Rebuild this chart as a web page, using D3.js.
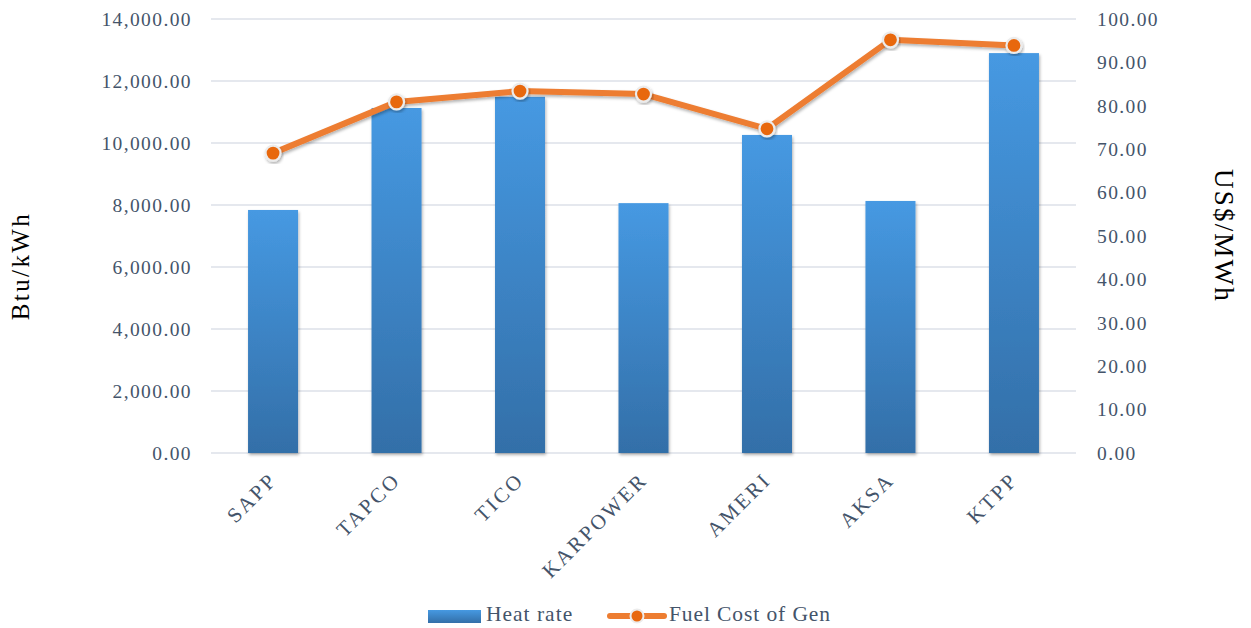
<!DOCTYPE html>
<html>
<head>
<meta charset="utf-8">
<script src="https://cdn.jsdelivr.net/npm/d3@7"></script>
<style>
  body { margin: 0; background: #fff; }
  text { font-family: "Liberation Serif", "DejaVu Serif", serif; }
</style>
</head>
<body>
<svg id="chart"></svg>
<script>
// chart data
const plants = ["SAPP", "TAPCO", "TICO", "KARPOWER", "AMERI", "AKSA", "KTPP"];
const heatRate = [7840, 11130, 11490, 8060, 10260, 8130, 12900];
const fuelCost = [69.1, 80.9, 83.4, 82.7, 74.7, 95.2, 93.9];
const leftTicks = [0, 2000, 4000, 6000, 8000, 10000, 12000, 14000];
const rightTicks = [0, 10, 20, 30, 40, 50, 60, 70, 80, 90, 100];

const width = 1251;
const height = 628;
const margin = { top: 19, right: 175, bottom: 175, left: 211 };
const textColor = "#44546a";

const svg = d3.select("#chart")
  .attr("width", width)
  .attr("height", height);

// gradient for the bars + shadow filter
const defs = svg.append("defs");
const grad = defs.append("linearGradient")
  .attr("id", "barGrad")
  .attr("x1", 0).attr("y1", 0).attr("x2", 0).attr("y2", 1);
grad.append("stop").attr("offset", "0%").attr("stop-color", "#4699e2");
grad.append("stop").attr("offset", "100%").attr("stop-color", "#336fa8");

const shadow = defs.append("filter").attr("id", "shadow")
  .attr("x", "-20%").attr("y", "-20%").attr("width", "140%").attr("height", "140%");
shadow.append("feDropShadow")
  .attr("dx", 1).attr("dy", 2).attr("stdDeviation", 1.8)
  .attr("flood-color", "#000").attr("flood-opacity", 0.3);

const x = d3.scaleBand()
  .domain(plants)
  .range([margin.left, width - margin.right])
  .paddingInner(0.595)
  .paddingOuter(0.3);

const yLeft = d3.scaleLinear()
  .domain([0, 14000])
  .range([height - margin.bottom, margin.top]);

const yRight = d3.scaleLinear()
  .domain([0, 100])
  .range([height - margin.bottom, margin.top]);

// gridlines
svg.append("g")
  .selectAll("line")
  .data(leftTicks)
  .join("line")
  .attr("x1", margin.left)
  .attr("x2", width - margin.right)
  .attr("y1", d => yLeft(d))
  .attr("y2", d => yLeft(d))
  .attr("stroke", "#dde1e8")
  .attr("stroke-width", 1.3);

// left axis
const fmt = d3.format(",.2f");
const leftAxis = svg.append("g")
  .attr("transform", `translate(${margin.left - 19},0)`)
  .call(d3.axisLeft(yLeft).tickValues(leftTicks).tickFormat(fmt).tickSize(0).tickPadding(0));
leftAxis.select(".domain").remove();
leftAxis.selectAll("text")
  .attr("fill", textColor)
  .style("font-size", "19.5px")
  .style("letter-spacing", "1.4px");

// right axis
const rightAxis = svg.append("g")
  .attr("transform", `translate(${width - margin.right + 21},0)`)
  .call(d3.axisRight(yRight).tickValues(rightTicks).tickFormat(fmt).tickSize(0).tickPadding(0));
rightAxis.select(".domain").remove();
rightAxis.selectAll("text")
  .attr("fill", textColor)
  .style("font-size", "19.5px")
  .style("letter-spacing", "1.4px");

// bars
svg.append("g")
  .selectAll("rect")
  .data(plants)
  .join("rect")
  .attr("x", d => x(d))
  .attr("y", (d, i) => yLeft(heatRate[i]))
  .attr("width", x.bandwidth())
  .attr("height", (d, i) => yLeft(0) - yLeft(heatRate[i]))
  .attr("fill", "url(#barGrad)")
  .attr("filter", "url(#shadow)");

// x labels rotated
svg.append("g")
  .selectAll("text")
  .data(plants)
  .join("text")
  .attr("transform", d => `translate(${x(d) + x.bandwidth() / 2},${height - margin.bottom + 23}) rotate(-45)`)
  .attr("text-anchor", "end")
  .attr("dy", "0.35em")
  .attr("fill", textColor)
  .style("font-size", "21px")
  .style("letter-spacing", "2.6px")
  .text(d => d);

// line series
const line = d3.line()
  .x((d, i) => x(plants[i]) + x.bandwidth() / 2)
  .y(d => yRight(d));

svg.append("path")
  .datum(fuelCost)
  .attr("d", line)
  .attr("fill", "none")
  .attr("stroke", "#ed7d31")
  .attr("stroke-width", 6)
  .attr("stroke-linejoin", "round")
  .attr("filter", "url(#shadow)");

svg.append("g")
  .selectAll("circle")
  .data(fuelCost)
  .join("circle")
  .attr("cx", (d, i) => x(plants[i]) + x.bandwidth() / 2)
  .attr("cy", d => yRight(d))
  .attr("r", 7.5)
  .attr("fill", "#e8680f")
  .attr("stroke", "#ececec")
  .attr("stroke-width", 2.2)
  .attr("filter", "url(#shadow)");

// axis titles
svg.append("text")
  .attr("transform", "translate(29,266) rotate(-90)")
  .attr("text-anchor", "middle")
  .attr("fill", "#000")
  .style("font-size", "25px")
  .style("letter-spacing", "2.4px")
  .text("Btu/kWh");

svg.append("text")
  .attr("transform", "translate(1215,236) rotate(90)")
  .attr("text-anchor", "middle")
  .attr("fill", "#000")
  .style("font-size", "27px")
  .style("letter-spacing", "2.2px")
  .text("US$/MWh");

// legend
const legend = svg.append("g").attr("transform", "translate(0,616)");
legend.append("rect")
  .attr("x", 428).attr("y", -6)
  .attr("width", 53).attr("height", 13)
  .attr("fill", "url(#barGrad)");
legend.append("text")
  .attr("x", 486).attr("y", 5)
  .attr("fill", textColor)
  .style("font-size", "21.5px")
  .style("letter-spacing", "1px")
  .text("Heat rate");
legend.append("line")
  .attr("x1", 610).attr("x2", 664)
  .attr("y1", 0).attr("y2", 0)
  .attr("stroke", "#ed7d31")
  .attr("stroke-width", 6)
  .attr("stroke-linecap", "round");
legend.append("circle")
  .attr("cx", 637).attr("cy", 0).attr("r", 6.5)
  .attr("fill", "#e8680f")
  .attr("stroke", "#ececec")
  .attr("stroke-width", 2);
legend.append("text")
  .attr("x", 669).attr("y", 5)
  .attr("fill", textColor)
  .style("font-size", "21.5px")
  .style("letter-spacing", "0.9px")
  .text("Fuel Cost of Gen");
</script>
</body>
</html>
